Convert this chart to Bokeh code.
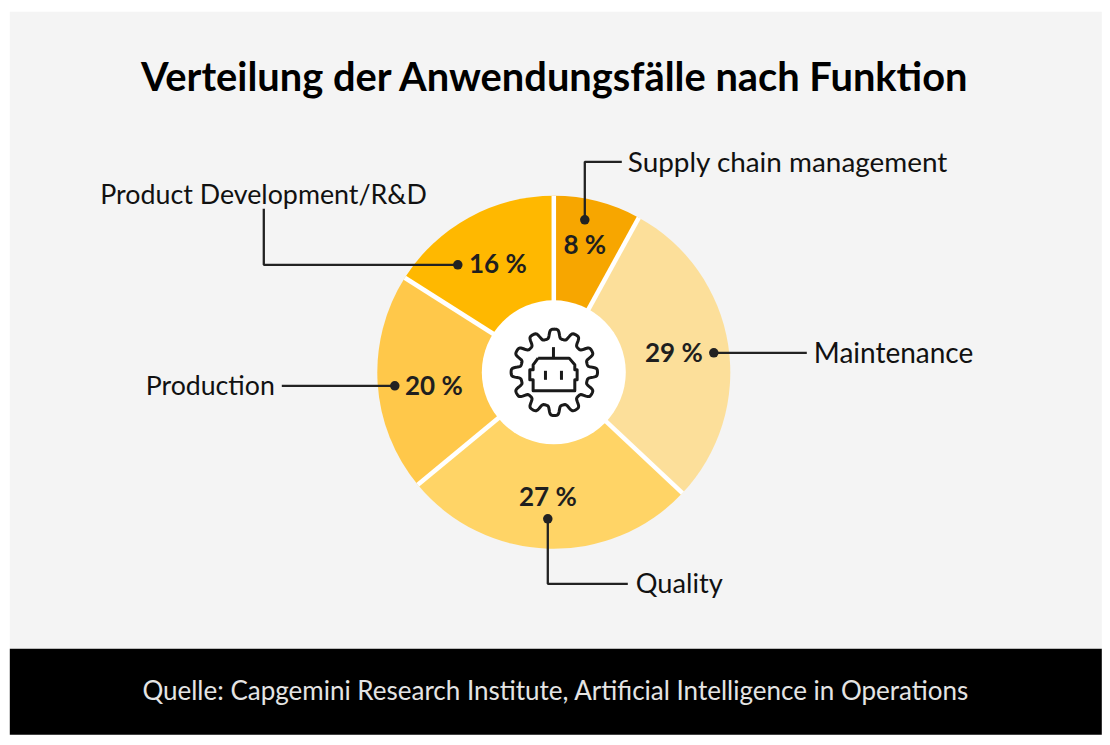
import numpy as np
from bokeh.plotting import figure
from bokeh.embed import file_html
from bokeh.resources import INLINE
from bokeh.core.properties import value

TITLE = "Verteilung der Anwendungsfälle nach Funktion"
SOURCE = "Quelle: Capgemini Research Institute, Artificial Intelligence in Operations"
categories = ["Supply chain management", "Maintenance", "Quality", "Production", "Product Development/R&D"]
shares = [8, 29, 27, 20, 16]
colors = ["#F7A600", "#FCDF9A", "#FFD466", "#FFC84A", "#FFB800"]
label_sizes = ["27.9px", "28px", "27.2px", "26.7px", "26.8px"]

FONT = "Lato"
W, H = 1110, 745
SHIFT = 0.7
CX, CY, R_OUT, R_IN = 554, 372.5, 176.5, 72


def Y(py):
    return 745 - py


p = figure(width=W, height=H, x_range=(SHIFT, W + SHIFT), y_range=(-SHIFT, H - SHIFT),
           output_backend="svg", toolbar_location=None, min_border=0,
           background_fill_color="white", border_fill_color="white", outline_line_color=None)
p.axis.visible = False
p.grid.visible = False

# panels
p.quad(left=[10], right=[1102], bottom=[Y(649)], top=[Y(12)], fill_color="#F4F4F4", line_color=None)
p.quad(left=[10], right=[1102], bottom=[Y(735)], top=[Y(649)], fill_color="#000000", line_color=None)

# slices: clockwise from the top
fr = np.cumsum([0] + shares) / sum(shares)
start = np.pi / 2 - fr[1:] * 2 * np.pi
end = np.pi / 2 - fr[:-1] * 2 * np.pi
p.wedge(x=CX, y=Y(CY), radius=R_OUT, start_angle=start, end_angle=end, fill_color=colors, line_color=None)
spoke = end
p.segment(x0=CX, y0=Y(CY), x1=CX + R_OUT * np.cos(spoke), y1=Y(CY) + R_OUT * np.sin(spoke),
          line_color="white", line_width=4.5)
p.circle(x=[CX], y=[Y(CY)], radius=R_IN, fill_color="white", line_color=None)

# callouts
LC = "#222222"
callouts = [
    ([585, 585, 622], [220, 162, 162]),
    ([714, 807], [353, 353]),
    ([548, 548, 628], [519, 584, 584]),
    ([395, 282], [386, 386]),
    ([458, 264, 264], [265, 265, 209]),
]
for xs, ys in callouts:
    p.line(xs, [Y(v) for v in ys], line_color=LC, line_width=2.3)
    p.scatter([xs[0]], [Y(ys[0])], size=9.5, fill_color=LC, line_color=None)

# labels
lab_pos = [(628, 161, "left"), (814, 352, "left"), (636, 583, "left"), (275, 385, "right"), (427, 194, "right")]
for c, (x, y, al), fs in zip(categories, lab_pos, label_sizes):
    p.text([x], [Y(y)], text=[c], text_font=value(FONT), text_font_size=fs, text_color="#111111",
           text_align=al, text_baseline="middle")

pct_pos = [(585, 244.5), (674, 352.5), (548, 496.5), (434, 385.5), (498, 263.5)]
for s, (x, y) in zip(shares, pct_pos):
    p.text([x], [Y(y)], text=[f"{s} %"], text_font=value(FONT), text_font_size="26px", text_font_style="bold",
           text_color="#1f1f1f", text_align="center", text_baseline="middle")

p.text([555.5], [Y(75.5)], text=[TITLE], text_font=value(FONT), text_font_size="39.8px", text_font_style="bold",
       text_color="#000000", text_align="center", text_baseline="middle")
p.text([556], [Y(690)], text=[SOURCE], text_font=value(FONT), text_font_size="26px", text_color="#E4E4E4",
       text_align="center", text_baseline="middle")

# icon: gear outline
t = np.linspace(0, 2 * np.pi, 361)
r = 38.5 + 4.8 * np.tanh(2.2 * np.cos(12 * t))
p.line(CX + 0.5 + r * np.sin(t), Y(CY) + r * np.cos(t), line_color="#1a1a1a", line_width=3, line_join="round")


def zx(v):
    return 470 + v / 3


def zy(v):
    return 315 + v / 3


head = [(205, 130), (298, 130), (315, 150), (315, 165), (322, 165), (322, 195), (315, 195), (315, 228),
        (190, 228), (190, 195), (180, 195), (180, 165), (190, 165), (190, 150), (205, 130)]
p.line([zx(a) for a, b in head], [Y(zy(b)) for a, b in head], line_color="#1a1a1a", line_width=3, line_join="round")
for seg in [[(251, 97), (251, 130)], [(227, 168), (227, 195)], [(275, 168), (275, 195)]]:
    p.line([zx(a) for a, b in seg], [Y(zy(b)) for a, b in seg], line_color="#1a1a1a", line_width=3)

open("out.html", "w").write(file_html(p, INLINE))
